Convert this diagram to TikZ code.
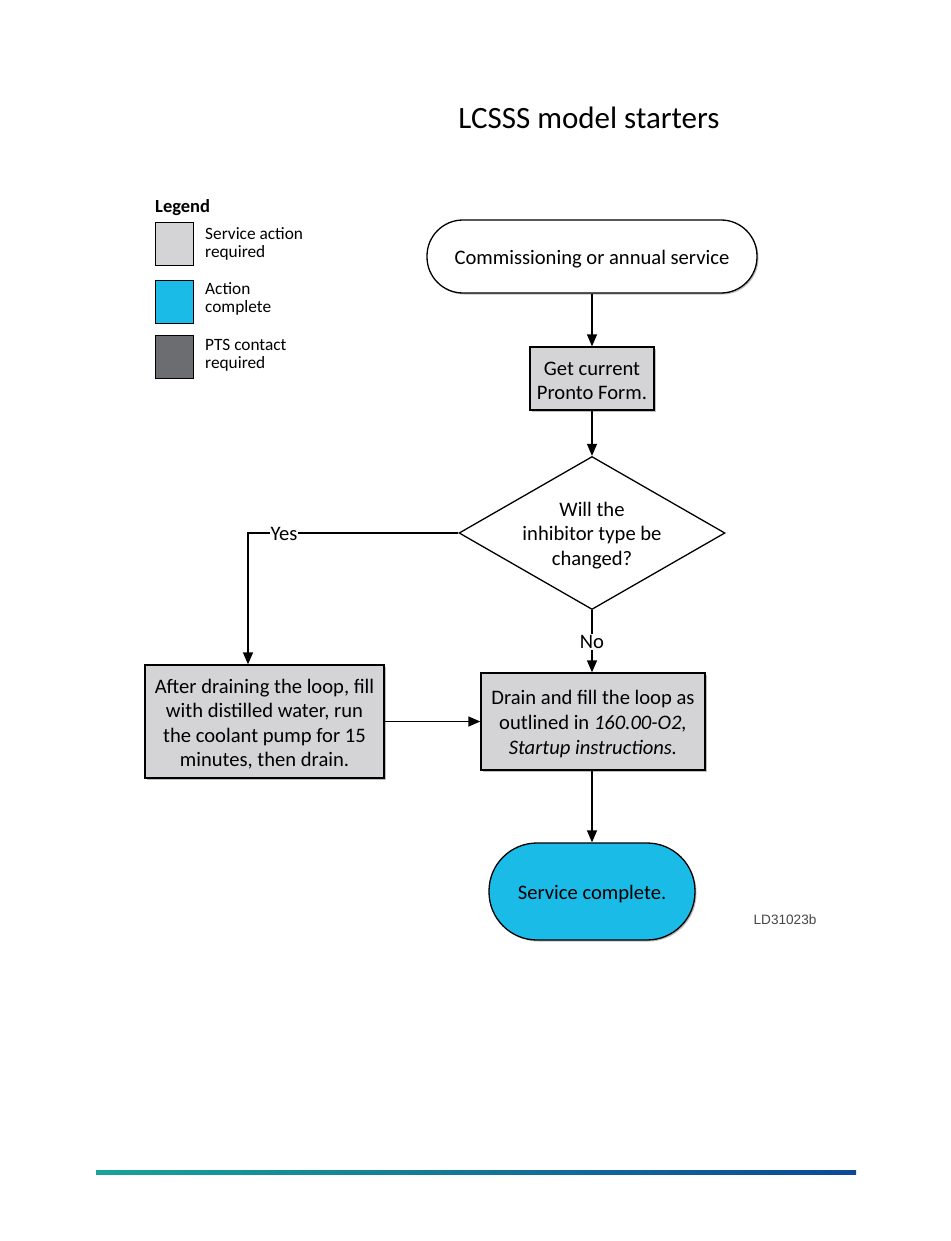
\documentclass[tikz,border=0pt]{standalone}
\usepackage{fontspec}
\setmainfont{Carlito}
\newfontfamily\arialfont{Liberation Sans}
\usetikzlibrary{arrows.meta,shapes.geometric,shadows}
\definecolor{boxgray}{RGB}{212,212,214}
\definecolor{darkgray}{RGB}{108,109,113}
\definecolor{cyanfill}{RGB}{27,187,232}
\definecolor{tealL}{RGB}{24,163,152}
\definecolor{blueR}{RGB}{13,72,150}
\definecolor{idgray}{RGB}{70,70,70}
\begin{document}
\begin{tikzpicture}[x=1pt,y=-1pt,
  every node/.style={font=\fontsize{20.6}{24.5}\selectfont},
  shadowed/.style={drop shadow={shadow xshift=1.5pt,shadow yshift=-1.5pt,opacity=0.25,fill=black}},
  terminal/.style={draw,line width=1.3pt,rounded corners=36pt,shadowed,inner sep=0pt},
  process/.style={draw,line width=1.3pt,fill=boxgray,shadowed,inner sep=0pt},
  intext/.style={align=center,inner sep=0pt,yshift=-2.5pt},
  legbox/.style={draw,line width=1.3pt,minimum width=38pt,minimum height=43pt,inner sep=0pt,anchor=north west},
  legtext/.style={font=\fontsize{17.3}{18.5}\selectfont,align=left,anchor=north west,inner sep=0pt},
  flow/.style={line width=1.3pt,-{Triangle[length=12pt,width=10pt]}},
  lbl/.style={fill=white,inner sep=1pt,yshift=-1pt}
]
\useasboundingbox (0,0) rectangle (950,1241);

% title
\node[font=\fontsize{31}{36}\selectfont] (title) at (589,118) {LCSSS model starters};

% legend
\node[font=\bfseries\fontsize{18.5}{21}\selectfont,anchor=west,inner sep=0pt] (legend) at (155,207.5) {Legend};
\node[legbox,fill=boxgray] (lg1) at (155,222) {};
\node[legbox,fill=cyanfill] (lg2) at (155,280) {};
\node[legbox,fill=darkgray] (lg3) at (155,335) {};
\node[legtext] (lt1) at (205,227) {Service action\\required};
\node[legtext] (lt2) at (205,282) {Action\\complete};
\node[legtext] (lt3) at (205,339) {PTS contact\\required};

% flow shapes
\node[terminal,fill=white,minimum width=330pt,minimum height=73pt] (start) at (592,256.5) {};
\node[process,minimum width=124pt,minimum height=63pt] (get) at (592,378.5) {};
\node[diamond,draw,line width=1.3pt,fill=white,minimum width=266pt,minimum height=153pt,inner sep=0pt] (dec) at (592,533) {};
\node[process,minimum width=239pt,minimum height=113pt] (flush) at (264.5,721.5) {};
\node[process,minimum width=224pt,minimum height=97pt] (drain) at (593,721.5) {};
\node[terminal,fill=cyanfill,minimum width=206pt,minimum height=97pt,rounded corners=48pt] (done) at (592,891.5) {};

% flow texts
\node[intext] (startt) at (start) {Commissioning or annual service};
\node[intext] (gett) at (get) {Get current\\Pronto Form.};
\node[intext] (dect) at (dec) {Will the\\inhibitor type be\\changed?};
\node[intext] (flusht) at (flush) {After draining the loop, fill\\with distilled water, run\\the coolant pump for 15\\minutes, then drain.};
\node[intext] (draint) at (drain) {Drain and fill the loop as\\outlined in \textit{160.00-O2,}\\\textit{Startup instructions.}};
\node[intext] (donet) at (done) {Service complete.};
\node[font=\arialfont\fontsize{13.6}{15}\selectfont,text=idgray] (ld) at (785,920) {LD31023b};

% connectors
\coordinate (corner) at (248,533);
\draw[flow] (start.south) -- (get.north);
\draw[flow] (get.south) -- (dec.north);
\draw[flow] (dec.west) -- (corner) -- (flush.north -| corner);
\node[lbl] (yes) at (284,533) {Yes};
\draw[flow] (dec.south) -- (drain.north -| dec.south);
\node[lbl] (no) at (592,641) {No};
\draw[flow] (flush.east) -- (drain.west);
\draw[flow] (drain.south -| done.north) -- (done.north);

% bottom rule
\shade[left color=tealL,right color=blueR] (96,1170.5) rectangle (856,1174);
\end{tikzpicture}
\end{document}
